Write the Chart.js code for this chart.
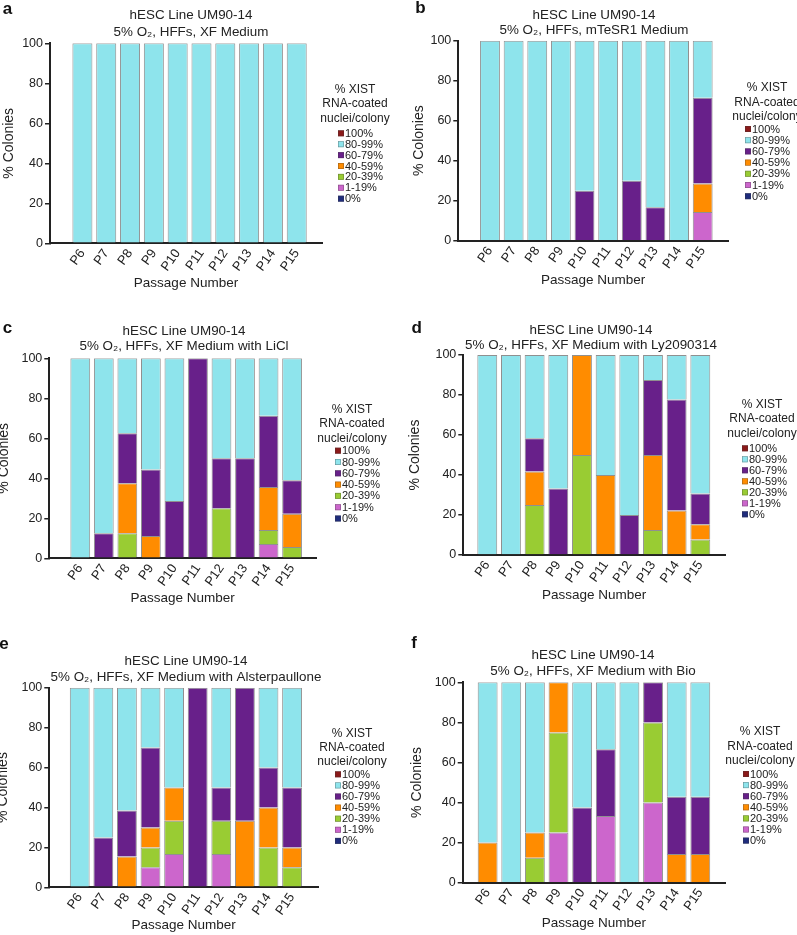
<!DOCTYPE html>
<html>
<head>
<meta charset="utf-8">
<script src="https://cdn.jsdelivr.net/npm/chart.js@4.4.0/dist/chart.umd.min.js"></script>
<style>
body { margin: 0; background: #fff; width: 797px; height: 935px; position: relative; overflow: hidden; }
.panel { position: absolute; }
</style>
</head>
<body>
<script>
var FONT = '"Liberation Sans", Arial, Helvetica, sans-serif';

var passages = ['P6', 'P7', 'P8', 'P9', 'P10', 'P11', 'P12', 'P13', 'P14', 'P15'];
var seriesNames = ['0%', '1-19%', '20-39%', '40-59%', '60-79%', '80-99%', '100%'];
var seriesColors = ['#1f2c7c', '#cc66cc', '#99cc33', '#ff8c00', '#68208a', '#8ee4ec', '#8b1a1a'];
var legendTitle = ['% XIST', 'RNA-coated', 'nuclei/colony'];
var zeros = [0, 0, 0, 0, 0, 0, 0, 0, 0, 0];

// a - XF Medium
var a_cyan = [100, 100, 100, 100, 100, 100, 100, 100, 100, 100];

// b - mTeSR1 Medium
var b_pink   = [0, 0, 0, 0, 0, 0, 0, 0, 0, 14.3];
var b_orange = [0, 0, 0, 0, 0, 0, 0, 0, 0, 14.3];
var b_purple = [0, 0, 0, 0, 25, 0, 30, 16.7, 0, 42.9];
var b_cyan   = [100, 100, 100, 100, 75, 100, 70, 83.3, 100, 28.5];

// c - LiCl
var c_pink   = [0, 0, 0, 0, 0, 0, 0, 0, 7.1, 0];
var c_green  = [0, 0, 12.5, 0, 0, 0, 25, 0, 7.1, 5.6];
var c_orange = [0, 0, 25, 11.1, 0, 0, 0, 0, 21.4, 16.7];
var c_purple = [0, 12.5, 25, 33.3, 28.6, 100, 25, 50, 35.7, 16.7];
var c_cyan   = [100, 87.5, 37.5, 55.6, 71.4, 0, 50, 50, 28.7, 61];

// d - Ly2090314
var d_green  = [0, 0, 25, 0, 50, 0, 0, 12.5, 0, 7.7];
var d_orange = [0, 0, 16.7, 0, 50, 40, 0, 37.5, 22.2, 7.7];
var d_purple = [0, 0, 16.7, 33.3, 0, 0, 20, 37.5, 55.6, 15.4];
var d_cyan   = [100, 100, 41.6, 66.7, 0, 60, 80, 12.5, 22.2, 69.2];

// e - Alsterpaullone
var e_pink   = [0, 0, 0, 10, 16.7, 0, 16.7, 0, 0, 0];
var e_green  = [0, 0, 0, 10, 16.7, 0, 16.7, 0, 20, 10];
var e_orange = [0, 0, 15.4, 10, 16.6, 0, 0, 33.3, 20, 10];
var e_purple = [0, 25, 23.1, 40, 0, 100, 16.6, 66.7, 20, 30];
var e_cyan   = [100, 75, 61.5, 30, 50, 0, 50, 0, 40, 50];

// f - Bio
var f_pink   = [0, 0, 0, 25, 0, 33.3, 0, 40, 0, 0];
var f_green  = [0, 0, 12.5, 50, 0, 0, 0, 40, 0, 0];
var f_orange = [20, 0, 12.5, 25, 0, 0, 0, 0, 14.3, 14.3];
var f_purple = [0, 0, 0, 0, 37.5, 33.3, 0, 20, 28.6, 28.6];
var f_cyan   = [80, 100, 75, 0, 62.5, 33.4, 100, 0, 57.1, 57.1];

var panels = [
  { letter: 'a', sub: '5% O\u2082, HFFs, XF Medium',
    series: [zeros, zeros, zeros, zeros, zeros, a_cyan, zeros],
    left: 0, top: 0, h: 305, axisX: 50, plotTop: 43.3, plotBottom: 243.3, right: 322, minX: -0.79, maxX: 9.49,
    titleX: 191, titleY: [15, 32], letterXY: [7.5, 9], legendX: 355, legendY: [90, 104, 119],
    itemX: 338, itemY: 133.3, itemStep: 10.9, yTitleX: 9, xTitleY: 283 },
  { letter: 'b', sub: '5% O\u2082, HFFs, mTeSR1 Medium',
    series: [zeros, b_pink, zeros, b_orange, b_purple, b_cyan, zeros],
    left: 399, top: 0, h: 305, axisX: 59.3, plotTop: 40.7, plotBottom: 240.7, right: 329, minX: -0.77, maxX: 9.5,
    titleX: 195, titleY: [15, 30], letterXY: [21.5, 8], legendX: 368, legendY: [88, 103, 117],
    itemX: 346, itemY: 129, itemStep: 11.2, yTitleX: 20, xTitleY: 280 },
  { letter: 'c', sub: '5% O\u2082, HFFs, XF Medium with LiCl',
    series: [zeros, c_pink, c_green, c_orange, c_purple, c_cyan, zeros],
    left: 0, top: 305, h: 305, axisX: 49.3, plotTop: 53.3, plotBottom: 253.3, right: 316, minX: -0.75, maxX: 9.45,
    titleX: 184, titleY: [26.7, 41.7], letterXY: [7.5, 23], legendX: 352, legendY: [105, 118.3, 133.3],
    itemX: 335, itemY: 145.7, itemStep: 11.3, yTitleX: 4, xTitleY: 293 },
  { letter: 'd', sub: '5% O\u2082, HFFs, XF Medium with Ly2090314',
    series: [zeros, zeros, d_green, d_orange, d_purple, d_cyan, zeros],
    left: 399, top: 305, h: 305, axisX: 64.3, plotTop: 50, plotBottom: 250, right: 326, minX: -0.46, maxX: 9.49,
    titleX: 192, titleY: [25, 40], letterXY: [17.7, 23], legendX: 363, legendY: [100, 114, 128.3],
    itemX: 343, itemY: 143.3, itemStep: 11, yTitleX: 16, xTitleY: 290 },
  { letter: 'e', sub: '5% O\u2082, HFFs, XF Medium with Alsterpaullone',
    series: [zeros, e_pink, e_green, e_orange, e_purple, e_cyan, zeros],
    left: 0, top: 610, h: 325, axisX: 49.3, plotTop: 77.7, plotBottom: 277.3, right: 318, minX: -0.72, maxX: 9.53,
    titleX: 186, titleY: [51.7, 67.7], letterXY: [4, 34], legendX: 352, legendY: [123.3, 137.3, 151.7],
    itemX: 335, itemY: 164.3, itemStep: 11.1, yTitleX: 3, xTitleY: 315 },
  { letter: 'f', sub: '5% O\u2082, HFFs, XF Medium with Bio',
    series: [zeros, f_pink, f_green, f_orange, f_purple, f_cyan, zeros],
    left: 399, top: 610, h: 325, axisX: 63.7, plotTop: 72.3, plotBottom: 272.7, right: 326, minX: -0.5, maxX: 9.49,
    titleX: 194, titleY: [45, 61.7], letterXY: [15, 33], legendX: 361, legendY: [121.7, 136.7, 151],
    itemX: 344, itemY: 164, itemStep: 11.1, yTitleX: 18, xTitleY: 313 }
];

// title, panel letter and legend drawn on top of each chart
function drawPanelText(chart, p) {
  var ctx = chart.ctx;
  ctx.save();
  ctx.textBaseline = 'middle';
  ctx.textAlign = 'center';
  ctx.fillStyle = '#111';
  ctx.font = 'bold 17px ' + FONT;
  ctx.fillText(p.letter, p.letterXY[0], p.letterXY[1]);

  ctx.fillStyle = '#222';
  ctx.font = '13.4px ' + FONT;
  ctx.fillText('hESC Line UM90-14', p.titleX, p.titleY[0]);
  ctx.fillText(p.sub, p.titleX, p.titleY[1]);

  ctx.font = '12px ' + FONT;
  for (var t = 0; t < legendTitle.length; t++) {
    ctx.fillText(legendTitle[t], p.legendX, p.legendY[t]);
  }

  ctx.textAlign = 'left';
  ctx.font = '11px ' + FONT;
  var ds = chart.data.datasets;
  for (var j = 0; j < ds.length; j++) {
    var d = ds[ds.length - 1 - j];
    var y = p.itemY + j * p.itemStep;
    ctx.fillStyle = d.backgroundColor;
    ctx.fillRect(p.itemX, y - 3, 6, 6);
    ctx.strokeStyle = 'rgba(60,60,60,0.5)';
    ctx.lineWidth = 0.6;
    ctx.strokeRect(p.itemX + 0.3, y - 2.7, 5.4, 5.4);
    ctx.fillStyle = '#222';
    ctx.fillText(d.label, p.itemX + 7, y + 0.5);
  }
  ctx.restore();
}

function makeChart(p) {
  var div = document.createElement('div');
  div.className = 'panel';
  div.style.left = p.left + 'px';
  div.style.top = p.top + 'px';
  var canvas = document.createElement('canvas');
  canvas.width = 398;
  canvas.height = p.h;
  div.appendChild(canvas);
  document.body.appendChild(div);

  var datasets = seriesNames.map(function (name, k) {
    return {
      label: name,
      data: p.series[k].map(function (v, i) { return {x: i, y: v}; }),
      backgroundColor: seriesColors[k],
      borderColor: 'rgba(70,70,70,0.6)',
      borderWidth: 1,
      barPercentage: 0.84,
      categoryPercentage: 1
    };
  });

  return new Chart(canvas, {
    type: 'bar',
    data: { datasets: datasets },
    options: {
      responsive: false,
      animation: false,
      layout: { padding: { left: 0, top: p.plotTop, right: canvas.width - p.right, bottom: 0 } },
      plugins: {
        legend: { display: false },
        tooltip: { enabled: false },
        title: { display: false }
      },
      scales: {
        x: {
          type: 'linear',
          stacked: true,
          bounds: 'data',
          min: p.minX,
          max: p.maxX,
          afterBuildTicks: function (s) {
            s.ticks = passages.map(function (c, i) { return {value: i}; });
          },
          afterFit: function (s) { s.height = canvas.height - p.plotBottom; },
          ticks: {
            callback: function (v) { return passages[v]; },
            minRotation: 55,
            maxRotation: 55,
            autoSkip: false,
            padding: 3,
            color: '#222',
            font: { family: FONT, size: 13 }
          },
          grid: { display: true, drawOnChartArea: false, drawTicks: false },
          border: { display: true, color: '#222', width: 2 },
          title: {
            display: true,
            text: 'Passage Number',
            color: '#222',
            font: { family: FONT, size: 13.5 },
            padding: { top: 0, bottom: canvas.height - p.xTitleY - 8.1 }
          }
        },
        y: {
          stacked: true,
          min: 0,
          max: 100,
          afterFit: function (s) { s.width = p.axisX; },
          ticks: {
            stepSize: 20,
            padding: 2,
            color: '#222',
            font: { family: FONT, size: 12.5 }
          },
          grid: { display: true, drawOnChartArea: false, drawTicks: true, tickLength: 5, color: '#222', lineWidth: 1.5 },
          border: { display: true, color: '#222', width: 2 },
          title: {
            display: true,
            text: '% Colonies',
            color: '#222',
            font: { family: FONT, size: 14 },
            padding: { top: p.yTitleX - 8.4, bottom: 0 }
          }
        }
      }
    },
    plugins: [{ id: 'panelText', afterDraw: function (chart) { drawPanelText(chart, p); } }]
  });
}

panels.forEach(makeChart);
</script>
</body>
</html>
